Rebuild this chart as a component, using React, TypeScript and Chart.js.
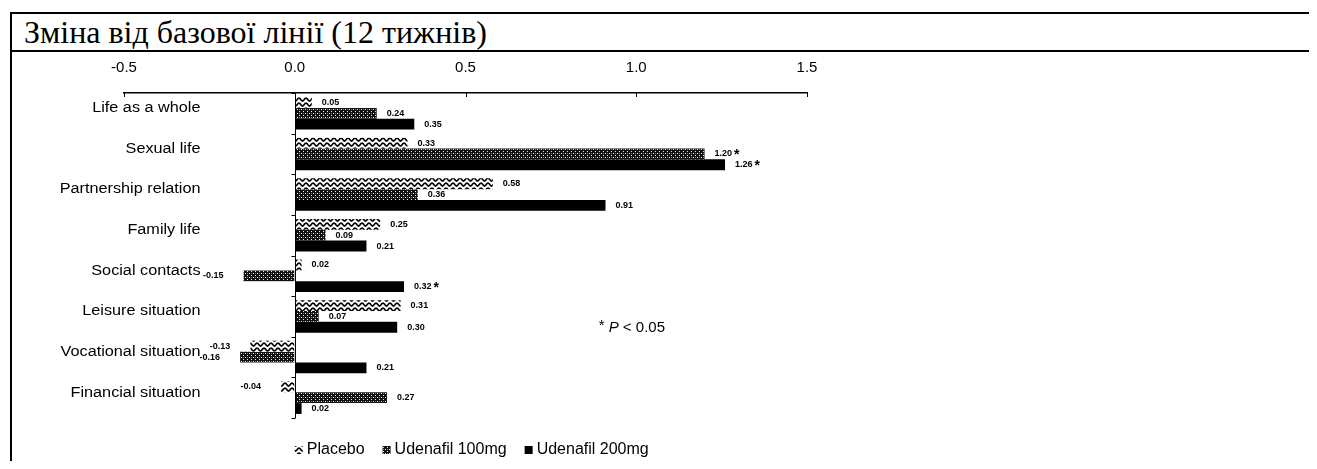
import React, { useEffect, useRef } from "react";
import { Chart, registerables } from "chart.js";

Chart.register(...registerables);

const title = "Зміна від базової лінії (12 тижнів)";
const categories = [
  "Life as a whole",
  "Sexual life",
  "Partnership relation",
  "Family life",
  "Social contacts",
  "Leisure situation",
  "Vocational situation",
  "Financial situation",
];
const seriesNames = ["Placebo", "Udenafil 100mg", "Udenafil 200mg"];
const placebo = [0.05, 0.33, 0.58, 0.25, 0.02, 0.31, -0.13, -0.04];
const udenafil100 = [0.24, 1.2, 0.36, 0.09, -0.15, 0.07, -0.16, 0.27];
const udenafil200 = [0.35, 1.26, 0.91, 0.21, 0.32, 0.3, 0.21, 0.02];
const sig100 = [false, true, false, false, false, false, false, false];
const sig200 = [false, true, false, false, true, false, false, false];
const xTicks = [-0.5, 0.0, 0.5, 1.0, 1.5];
const noteStar = "* ";
const noteP = "P";
const noteRest = " < 0.05";

const FONT = '"Liberation Sans", Arial, Helvetica, sans-serif';

function makeWavePattern(ctx: CanvasRenderingContext2D) {
  const c = document.createElement("canvas");
  c.width = 7;
  c.height = 5;
  const g = c.getContext("2d")!;
  g.fillStyle = "#fff";
  g.fillRect(0, 0, 7, 5);
  g.strokeStyle = "#000";
  g.lineWidth = 1.7;
  g.beginPath();
  for (let i = 0; i <= 14; i++) {
    const px = i * 0.5;
    const py = 2.5 - 1.5 * Math.cos((2 * Math.PI * px) / 7);
    if (i === 0) g.moveTo(px, py);
    else g.lineTo(px, py);
  }
  g.stroke();
  return ctx.createPattern(c, "repeat")!;
}

function makeCheckPattern(ctx: CanvasRenderingContext2D) {
  const c = document.createElement("canvas");
  c.width = 4;
  c.height = 4;
  const g = c.getContext("2d")!;
  g.fillStyle = "#111";
  g.fillRect(0, 0, 4, 4);
  g.fillStyle = "#f0f0f0";
  g.fillRect(1, 1, 1, 1);
  g.fillRect(3, 3, 1, 1);
  g.fillStyle = "#777";
  g.fillRect(3, 1, 1, 1);
  return ctx.createPattern(c, "repeat")!;
}

const seriesValues = [placebo, udenafil100, udenafil200];
const seriesSig = [placebo.map(() => false), sig100, sig200];

const valueLabelPlugin = {
  id: "valueLabels",
  afterDatasetsDraw(chart: any) {
    const ctx = chart.ctx as CanvasRenderingContext2D;
    ctx.save();
    seriesValues.forEach((vals, di) => {
      const meta = chart.getDatasetMeta(di);
      meta.data.forEach((el: any, i: number) => {
        const v = vals[i];
        const { x, y } = el.getProps(["x", "y"], true);
        const txt = v.toFixed(2);
        ctx.font = `bold 9px ${FONT}`;
        ctx.fillStyle = "#000";
        ctx.textBaseline = "middle";
        if (v >= 0) {
          ctx.textAlign = "left";
          const tx = x + 10;
          ctx.fillText(txt, tx, y);
          if (seriesSig[di][i]) {
            const w = ctx.measureText(txt).width;
            ctx.font = `bold 14px ${FONT}`;
            ctx.fillText("*", tx + w + 2, y + 1);
          }
        } else {
          ctx.textAlign = "right";
          ctx.fillText(txt, x - 20, y);
        }
      });
    });
    ctx.restore();
  },
};

const decorPlugin = {
  id: "decor",
  afterDatasetsDraw(chart: any) {
    const ctx = chart.ctx as CanvasRenderingContext2D;
    const xs = chart.scales.x;
    const ys = chart.scales.y;
    const area = chart.chartArea;
    ctx.save();
    ctx.strokeStyle = "#000";
    ctx.lineWidth = 1;
    // downward tick marks on the top axis
    xTicks.forEach((t) => {
      const px = Math.round(xs.getPixelForValue(t)) + 0.5;
      ctx.beginPath();
      ctx.moveTo(px, area.top);
      ctx.lineTo(px, area.top + 4);
      ctx.stroke();
    });
    // zero line (category axis)
    const zx = Math.round(xs.getPixelForValue(0)) + 0.5;
    ctx.beginPath();
    ctx.moveTo(zx, area.top);
    ctx.lineTo(zx, area.bottom);
    ctx.stroke();
    // boundary ticks on the category axis
    for (let i = 0; i <= categories.length; i++) {
      const py = Math.round(ys.getPixelForValue(i - 0.5)) + 0.5;
      ctx.beginPath();
      ctx.moveTo(zx - 4, py);
      ctx.lineTo(zx, py);
      ctx.stroke();
    }
    // category labels (horizontally stretched like the scanned original)
    ctx.fillStyle = "#000";
    ctx.font = `14px ${FONT}`;
    ctx.textAlign = "right";
    ctx.textBaseline = "middle";
    categories.forEach((c, i) => {
      ctx.save();
      ctx.translate(zx - 95, ys.getPixelForValue(i) - 5);
      ctx.scale(1.16, 1);
      ctx.fillText(c, 0, 0);
      ctx.restore();
    });
    // note "* P < 0.05"
    const ny = ys.getPixelForValue(5) * 0.73 + ys.getPixelForValue(6) * 0.27;
    let nx = xs.getPixelForValue(0.89);
    ctx.textAlign = "left";
    ctx.font = `15px ${FONT}`;
    ctx.fillText(noteStar, nx, ny - 2);
    nx += ctx.measureText(noteStar).width;
    ctx.font = `italic 15px ${FONT}`;
    ctx.fillText(noteP, nx, ny);
    nx += ctx.measureText(noteP).width;
    ctx.font = `15px ${FONT}`;
    ctx.fillText(noteRest, nx, ny);
    // legend
    const ly = area.bottom + 32;
    let lx = xs.getPixelForValue(0);
    chart.data.datasets.forEach((ds: any) => {
      ctx.fillStyle = ds.backgroundColor;
      ctx.fillRect(lx, ly - 4, 8, 8);
      lx += 12;
      ctx.fillStyle = "#000";
      ctx.font = `16px ${FONT}`;
      ctx.fillText(ds.label, lx, ly);
      lx += ctx.measureText(ds.label).width + 18;
    });
    ctx.restore();
  },
};

export default function App() {
  const ref = useRef<HTMLCanvasElement | null>(null);

  useEffect(() => {
    const canvas = ref.current!;
    const ctx = canvas.getContext("2d")!;
    const prevOverflow = document.documentElement.style.overflow;
    document.documentElement.style.overflow = "hidden";
    const wave = makeWavePattern(ctx);
    const check = makeCheckPattern(ctx);
    const chart = new Chart(canvas, {
      type: "bar",
      data: {
        labels: categories,
        datasets: [
          { label: seriesNames[0], data: placebo, backgroundColor: wave as any, borderWidth: 0 },
          { label: seriesNames[1], data: udenafil100, backgroundColor: check as any, borderWidth: 0 },
          { label: seriesNames[2], data: udenafil200, backgroundColor: "#000", borderWidth: 0 },
        ],
      },
      options: {
        responsive: false,
        animation: false,
        indexAxis: "y",
        datasets: { bar: { categoryPercentage: 0.8, barPercentage: 1.0 } },
        layout: { padding: { left: 112, right: 510, top: -9, bottom: 51 } },
        scales: {
          x: {
            type: "linear",
            position: "top",
            min: -0.5,
            max: 1.5,
            afterBuildTicks: (s: any) => {
              s.ticks = xTicks.map((v) => ({ value: v }));
            },
            ticks: {
              color: "#000",
              font: { family: FONT, size: 15 },
              padding: 16,
              callback: (v: any) => Number(v).toFixed(1),
            },
            grid: { display: true, drawOnChartArea: false, drawTicks: false },
            border: { display: true, color: "#000", width: 1.5 },
          },
          y: {
            type: "category",
            display: false,
          },
        },
        plugins: {
          legend: { display: false },
          tooltip: { enabled: false },
        },
      } as any,
      plugins: [valueLabelPlugin, decorPlugin],
    });
    return () => {
      chart.destroy();
      document.documentElement.style.overflow = prevOverflow;
    };
  }, []);

  return (
    <div
      style={{
        margin: "4px -8px -8px 2px",
        borderTop: "2px solid #000",
        borderLeft: "2px solid #000",
        background: "#fff",
      }}
    >
      <div
        style={{
          fontFamily: '"Liberation Serif", "Times New Roman", serif',
          fontSize: 32,
          lineHeight: "36px",
          height: 36,
          paddingLeft: 12,
          borderBottom: "2px solid #000",
          whiteSpace: "nowrap",
          color: "#000",
        }}
      >
        {title}
      </div>
      <canvas ref={ref} width={1305} height={417} style={{ display: "block" }} />
    </div>
  );
}
